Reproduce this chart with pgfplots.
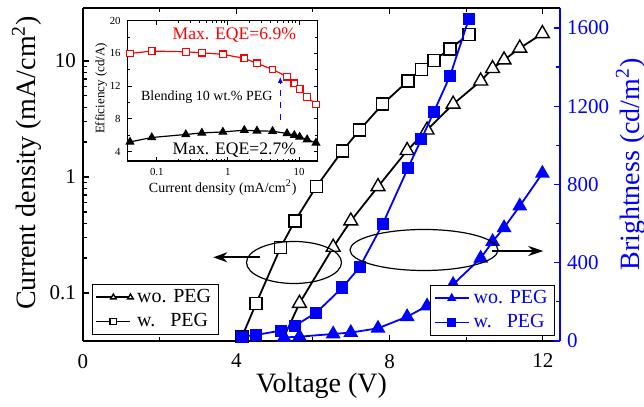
\documentclass[border=0pt]{standalone}
\usepackage{fontspec}
\setmainfont{Liberation Serif}
\usepackage{pgfplots}
\pgfplotsset{compat=1.18}
\usetikzlibrary{arrows.meta}
\definecolor{pblue}{RGB}{0,0,255}
\definecolor{pred}{RGB}{255,0,0}
\pgfplotsset{
  /pgf/number format/assume math mode=true,
  /pgf/number format/set thousands separator={},
}
\newcommand{\fs}[1]{\fontsize{#1}{#1}\selectfont}

\begin{document}
\begin{tikzpicture}
% ---------------- J-V (left, log) ----------------
\begin{axis}[
  scale only axis, width=238.5pt, height=166.5pt,
  at={(0,0)}, anchor=south west,
  xmin=0, xmax=12.45,
  ymode=log, ymin=0.0386, ymax=28.6,
  axis y line*=left,
  axis line style={line width=0.75pt},
  xtick={0,4,8,12}, minor xtick={2,6,10},
  ytick={0.1,1,10}, log ticks with fixed point,
  tick align=inside,
  major tick length=3pt, minor tick length=1.8pt,
  every tick/.style={black, line width=0.6pt},
  tick label style={font=\fs{10.5}},
  xticklabel style={yshift=-3pt},
  xlabel={Voltage (V)},
  xlabel style={font=\fs{14}, at={(axis description cs:0.5,-0.134)}, anchor=center},
  ylabel={Current density (mA/cm\textsuperscript{2})},
  ylabel style={font=\fs{14}, at={(axis description cs:-0.118,0.535)}, anchor=center},
  legend style={at={(0,0)}, anchor=south west, xshift=4.5pt, yshift=3pt, font=\fs{10},
    draw=black, inner xsep=1.5pt, inner ysep=0.5pt, cells={anchor=west}},
  legend image post style={mark size=1.6pt},
]
\addplot[black, line width=0.9pt, mark=triangle*, mark size=4pt, mark indices={2,...,13},
  mark options={solid, line width=0.7pt, fill=white, draw=black}] coordinates {
  (5.25,0.042) (5.65,0.0815) (6.53,0.248) (6.99,0.418) (7.70,0.826) (8.46,1.69)
  (8.98,2.54) (9.66,4.24) (10.38,6.72) (10.69,8.6) (10.99,10.2) (11.40,12.9) (11.99,17.2)};
\addlegendentry{wo. PEG}
\addplot[black, line width=0.9pt, mark=square*, mark size=3pt,
  mark options={solid, line width=0.7pt, fill=white, draw=black}] coordinates {
  (4.15,0.042) (4.52,0.0815) (5.16,0.248) (5.53,0.418) (6.09,0.825) (6.77,1.68)
  (7.22,2.54) (7.82,4.24) (8.48,6.72) (8.83,8.48) (9.16,10.1) (9.58,12.7) (10.07,17.0)};
\addlegendentry{w.\ \ \ PEG}
\end{axis}

% ---------------- Brightness (right, linear) ----------------
\begin{axis}[
  scale only axis, width=238.5pt, height=166.5pt,
  at={(0,0)}, anchor=south west,
  xmin=0, xmax=12.45, ymin=0, ymax=1702,
  axis y line*=right, axis x line=none,
  ytick={0,400,800,1200,1600}, minor ytick={200,600,1000,1400},
  tick align=inside, major tick length=3pt, minor tick length=1.8pt,
  y axis line style={pblue, line width=0.75pt},
  every tick/.style={pblue, line width=0.6pt},
  yticklabel style={font=\fs{10.5}, text=pblue},
  ylabel={Brightness (cd/m\textsuperscript{2})},
  ylabel style={font=\fs{14}, text=pblue, at={(axis description cs:1.148,0.53)}, anchor=center},
  legend style={at={(1,0)}, anchor=south east, xshift=-2.5pt, yshift=2.5pt, font=\fs{10},
    text=pblue, draw=black, inner xsep=1.5pt, inner ysep=0.5pt, cells={anchor=west}},
  legend image post style={mark size=1.8pt},
]
\addplot[pblue, line width=0.9pt, mark=triangle*, mark size=3.4pt,
  mark options={solid, fill=pblue}] coordinates {
  (5.25,18) (5.65,22) (6.53,36) (6.99,43) (7.70,65) (8.46,124) (8.98,179)
  (9.66,289) (10.38,423) (10.69,508) (10.99,579) (11.40,690) (11.99,857)};
\addlegendentry{wo. PEG}
\addplot[pblue, line width=0.9pt, mark=square*, mark size=2.6pt,
  mark options={solid, fill=pblue}] coordinates {
  (4.15,22) (4.52,31) (5.16,53) (5.53,78) (6.09,145) (6.77,273) (7.22,377)
  (7.82,597) (8.48,883) (8.83,1031) (9.16,1172) (9.58,1355) (10.07,1646)};
\addlegendentry{w.\ \ \ PEG}
\end{axis}

% ---------------- Annotations ----------------
\draw[line width=0.6pt] (105.5pt,39.25pt) ellipse [x radius=23.75pt, y radius=10.5pt];
\draw[line width=0.6pt] (170.5pt,45.5pt) ellipse [x radius=37pt, y radius=10.25pt];
\draw[line width=1pt, -{Stealth[length=7pt,width=5pt]}] (88.5pt,41.85pt) -- (65.15pt,41.85pt);
\draw[line width=1pt, -{Stealth[length=7.5pt,width=5pt]}] (204.35pt,45pt) -- (230.15pt,45pt);

% ---------------- Inset ----------------
\begin{axis}[
  scale only axis, width=95pt, height=70.15pt,
  at={(22.35pt,90pt)}, anchor=south west,
  xmode=log, xmin=0.039, xmax=18.3, ymin=2.86, ymax=20,
  xtick={0.1,1,10}, log ticks with fixed point,
  ytick={4,8,12,16,20}, minor y tick num=1,
  tick align=inside, major tick length=2pt, minor tick length=1.2pt,
  axis line style={line width=0.6pt},
  every tick/.style={black, line width=0.5pt},
  tick label style={font=\fs{5.4}},
  axis background/.style={fill=white},
  xlabel={Current density (mA/cm\textsuperscript{2})},
  xlabel style={font=\fs{7}, at={(axis description cs:0.5,-0.19)}, anchor=center},
  ylabel={Efficiency (cd/A)},
  ylabel style={font=\fs{6.5}, at={(axis description cs:-0.14,0.517)}, anchor=center},
]
\addplot[pred, line width=0.6pt, mark=square*, mark size=1.65pt,
  mark options={solid, fill=white, draw=pred, line width=0.6pt}] coordinates {
  (0.042,16.0) (0.085,16.29) (0.256,16.2) (0.43,16.08) (0.85,15.89) (1.70,15.40)
  (2.56,14.79) (4.24,14.05) (6.78,13.15) (8.59,12.34) (10.2,11.64) (13.0,10.70) (17.3,9.77)};
\addplot[black, line width=0.6pt, mark=triangle*, mark size=2.1pt,
  mark options={solid, fill=black}] coordinates {
  (0.042,5.19) (0.085,5.73) (0.256,6.10) (0.43,6.29) (0.85,6.41) (1.70,6.62)
  (2.56,6.54) (4.24,6.50) (6.78,6.22) (8.59,6.01) (10.2,5.80) (13.0,5.48) (17.3,5.07)};
\node[text=pred, font=\fs{8.8}] at (axis cs:1.23,18.25) {Max. EQE=6.9\%};
\node[font=\fs{7}] at (axis cs:0.506,10.7) {Blending 10 wt.\% PEG};
\node[font=\fs{8.8}] at (axis cs:1.23,4.17) {Max. EQE=2.7\%};
\draw[pblue, dashed, line width=0.6pt, -{Latex[length=3pt,width=2.5pt]}]
  (axis cs:5.45,7.85) -- (axis cs:5.45,13.15);
\end{axis}

\pgfresetboundingbox
\path (-41.5pt,-33pt) rectangle (280.5pt,170.5pt);
\end{tikzpicture}
\end{document}
